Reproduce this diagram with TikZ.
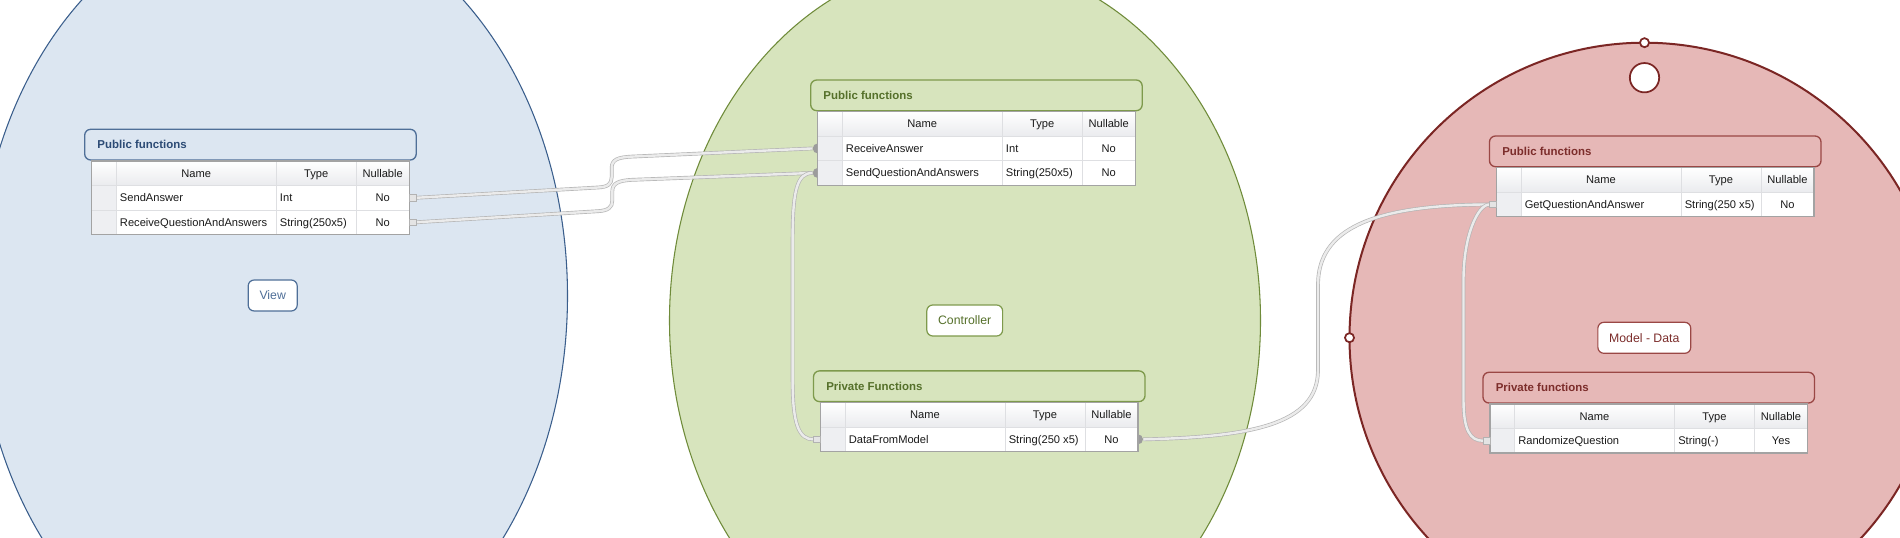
\documentclass[tikz,border=0pt]{standalone}
\usepackage{fontspec}
\setmainfont{Liberation Sans}
\definecolor{blueFill}{HTML}{DCE6F1}
\definecolor{blueLine}{HTML}{3A5E8C}
\definecolor{blueHead}{HTML}{4F6F98}
\definecolor{blueText}{HTML}{2C4B75}
\definecolor{greenFill}{HTML}{D7E4BD}
\definecolor{greenLine}{HTML}{6F8B3A}
\definecolor{greenHead}{HTML}{7E9A4C}
\definecolor{greenText}{HTML}{55702A}
\definecolor{redFill}{HTML}{E6B8B7}
\definecolor{redLine}{HTML}{7B2624}
\definecolor{redHead}{HTML}{9A4745}
\definecolor{redText}{HTML}{7C2D2B}
\definecolor{hdrGray}{HTML}{EAEBEE}
\definecolor{gutGray}{HTML}{EEEFF2}
\definecolor{gridGray}{HTML}{DEDFE2}
\definecolor{borderGray}{HTML}{A3A3A3}
\definecolor{tubeOut}{HTML}{B4B4B4}
\definecolor{tubeIn}{HTML}{EBEBEB}
\definecolor{portGray}{HTML}{9C9C9C}
\definecolor{stubFill}{HTML}{E4E4E4}
\definecolor{stubLine}{HTML}{B2B2B2}
\definecolor{cellText}{HTML}{1A1A1A}
\newcommand\myTabFont{\fontsize{8.35pt}{9pt}\selectfont}
\newcommand\myTitleFont{\fontsize{8.6pt}{10pt}\selectfont\bfseries}
\newcommand\myLabFont{\fontsize{9.2pt}{11pt}\selectfont}
\pgfdeclarelayer{bglayer}
\pgfdeclarelayer{connlayer}
\pgfsetlayers{bglayer,connlayer,main}
\tikzset{
  cell/.style={inner sep=0pt, font=\myTabFont, text=cellText},
  celltitle/.style={inner sep=0pt, font=\myTitleFont, anchor=base west},
  headbox/.style={rounded corners=4.5pt, line width=1pt},
  tubeline/.style={draw=tubeOut, line width=0.5pt, double=tubeIn, double distance=1.8pt},
  stubbox/.style={rectangle, draw=stubLine, fill=stubFill, line width=0.5pt, minimum size=5pt, inner sep=0pt},
  portdot/.style={circle, fill=portGray, minimum size=7.5pt, inner sep=0pt},
  tagbox/.style={rounded corners=4.5pt, fill=white, line width=0.9pt, minimum height=23.25pt, inner xsep=8.5pt, inner ysep=0pt, text height=6.6pt, text depth=0pt, font=\myLabFont},
  ringdot/.style={circle, draw=redLine, fill=white, line width=1.3pt, inner sep=0pt}
}
% table header, frame and column titles
\newcommand\FHead[4]{%
  \draw[headbox, draw=#4Head, fill=#4Fill] (-7,-31.7) rectangle (324.5,-1);
  \node[celltitle, text=#4Text] (#1-title) at (5.5,-12.2) {#2};
  \shade[top color=white, bottom color=hdrGray] (0,0) rectangle (317.5,24.5);
  \fill[white] (0,24.5) rectangle (317.5,{24.5*(#3+1)});
  \fill[gutGray] (0,24.5) rectangle (24.5,{24.5*(#3+1)});
  \draw[gridGray, line width=0.6pt] (24.5,0) -- (24.5,{24.5*(#3+1)})
     (184.5,0) -- (184.5,{24.5*(#3+1)}) (264.5,0) -- (264.5,{24.5*(#3+1)});
  \foreach \k in {1,...,#3} {\draw[gridGray, line width=0.6pt] (0,{24.5*\k}) -- (317.5,{24.5*\k});}
  \draw[borderGray, line width=0.8pt] (0,0) rectangle (317.5,{24.5*(#3+1)});
  \node[cell, anchor=base] (#1-hname) at (104.5,16.2) {Name};
  \node[cell, anchor=base] (#1-htype) at (224.5,16.2) {Type};
  \node[cell, anchor=base] (#1-hnull) at (291,16.2) {Nullable};
}
\newcommand\FRow[5]{%
  \node[cell, anchor=base west] (#1-n) at (28,{24.5*#2+16.2}) {#3};
  \node[cell, anchor=base west] (#1-t) at (188,{24.5*#2+16.2}) {#4};
  \node[cell, anchor=base] (#1-u) at (291,{24.5*#2+16.2}) {#5};
}
\begin{document}
\begin{tikzpicture}[x=0.75pt, y=-0.75pt]
\useasboundingbox (0,0) rectangle (1900,538);
\begin{pgfonlayer}{bglayer}
  \fill[white] (0,0) rectangle (1900,538);
  \draw[blueLine, fill=blueFill, line width=0.8pt] (272.5,296) ellipse [x radius=295, y radius=388];
  \draw[greenLine, fill=greenFill, line width=0.8pt] (965,320.5) ellipse [x radius=295.5, y radius=360];
  \draw[redLine, fill=redFill, line width=1.5pt] (1644.5,337.7) circle [radius=295];
\end{pgfonlayer}

% markers on the model circle
\node[ringdot, minimum size=6.8pt] (rTopMark) at (1644.5,42.7) {};
\node[ringdot, minimum size=6.8pt] (rLeftMark) at (1349.5,337.7) {};
\node[ringdot, minimum size=22pt] (rHole) at (1644.5,77.7) {};

% centre labels
\node[tagbox, draw=blueHead, text=blueHead] (viewTag) at (272.7,295.5) {View};
\node[tagbox, draw=greenHead, text=greenText] (ctrlTag) at (964.7,320.5) {Controller};
\node[tagbox, draw=redHead, text=redText] (modelTag) at (1644.3,337.8) {Model - Data};

% tables
\begin{scope}[shift={(91.7,161)}]
  \FHead{bp}{Public functions}{2}{blue}
  \FRow{bp1}{1}{SendAnswer}{Int}{No}
  \FRow{bp2}{2}{ReceiveQuestionAndAnswers}{String(250x5)}{No}
\end{scope}
\begin{scope}[shift={(817.7,111.7)}]
  \FHead{gp}{Public functions}{2}{green}
  \FRow{gp1}{1}{ReceiveAnswer}{Int}{No}
  \FRow{gp2}{2}{SendQuestionAndAnswers}{String(250x5)}{No}
\end{scope}
\begin{scope}[shift={(820.5,402.6)}]
  \FHead{gq}{Private Functions}{1}{green}
  \FRow{gq1}{1}{DataFromModel}{String(250 x5)}{No}
\end{scope}
\begin{scope}[shift={(1496.5,167.7)}]
  \FHead{rp}{Public functions}{1}{red}
  \FRow{rp1}{1}{GetQuestionAndAnswer}{String(250 x5)}{No}
\end{scope}
\begin{scope}[shift={(1490,404)}]
  \FHead{rq}{Private functions}{1}{red}
  \FRow{rq1}{1}{RandomizeQuestion}{String(-)}{Yes}
\end{scope}

% stubs
\node[stubbox] (bSendStub) at (412.9,197.75) {};
\node[stubbox] (bRecvStub) at (412.9,222.25) {};
\node[stubbox] (gDataStub) at (817.1,439.35) {};
\node[stubbox] (rGetStub) at (1493.1,204.45) {};
\node[stubbox] (rRandStub) at (1486.6,440.75) {};

\begin{pgfonlayer}{connlayer}
  \node[portdot] (gRecvPort) at (817.7,148.45) {};
  \node[portdot] (gSendPort) at (817.7,172.95) {};
  \node[portdot] (gDataPort) at (1138,439.35) {};
  \draw[tubeline] (bSendStub.east) -- (598,187.5) .. controls (608,187) and (611.7,184) .. (611.7,177) -- (611.7,168) .. controls (611.7,160) and (617,157.3) .. (632,156.6) -- (gRecvPort.west);
  \draw[tubeline] (bRecvStub.east) -- (598,211.2) .. controls (608,210.6) and (612.3,207.5) .. (612.3,200.5) -- (612.3,191.5) .. controls (612.3,183.5) and (618,180.4) .. (633,179.8) -- (gSendPort.west);
  \draw[tubeline] (gSendPort.west) .. controls (797,173) and (792.6,190) .. (792.6,240) -- (792.6,380) .. controls (792.6,425) and (799,439.35) .. (gDataStub.west);
  \draw[tubeline] (gDataPort.east) .. controls (1250,437) and (1318,425) .. (1318,370) -- (1318,285) .. controls (1318,230) and (1370,205) .. (rGetStub.west);
  \draw[tubeline] (rGetStub.west) .. controls (1478,204.5) and (1463.5,235) .. (1463.5,280) -- (1463.5,400) .. controls (1463.5,430) and (1470,440.75) .. (rRandStub.west);
\end{pgfonlayer}
\end{tikzpicture}
\end{document}
